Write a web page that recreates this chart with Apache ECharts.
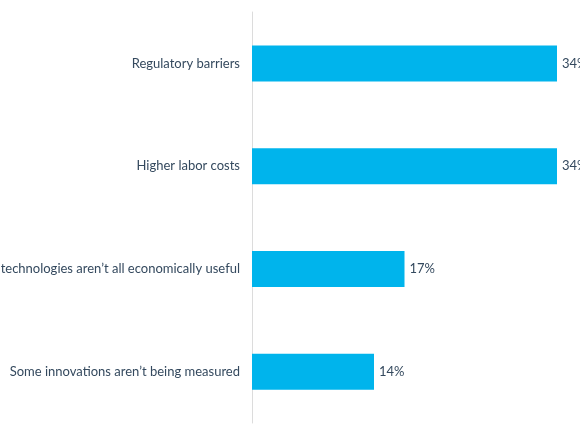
<!DOCTYPE html>
<html>
<head>
<meta charset="utf-8">
<script src="https://cdn.jsdelivr.net/npm/echarts@6/dist/echarts.min.js"></script>
<style>
  html, body { margin: 0; padding: 0; background: #fff; }
  #chart { width: 580px; height: 435px; }
</style>
</head>
<body>
<div id="chart"></div>
<script>
var categories = [
  'Regulatory barriers',
  'Higher labor costs',
  'New technologies aren\u2019t all economically useful',
  'Some innovations aren\u2019t being measured'
];
var values = [34, 34, 17, 13.6];

var myChart = echarts.init(document.getElementById('chart'));
myChart.setOption({
  animation: false,
  grid: { left: 252, right: 23, top: 12, bottom: 12, outerBoundsMode: 'none', containLabel: false },
  xAxis: {
    type: 'value',
    min: 0,
    max: 34,
    show: false
  },
  yAxis: {
    type: 'category',
    inverse: true,
    data: categories,
    axisLine: { show: true, lineStyle: { color: '#dcdcdc', width: 1 } },
    axisTick: { show: false },
    axisLabel: {
      color: '#34495e',
      fontFamily: 'Lato',
      fontSize: 13,
      margin: 12
    }
  },
  series: [{
    type: 'bar',
    data: values,
    barWidth: 36,
    itemStyle: { color: '#00b4ec' },
    label: {
      show: true,
      position: 'right',
      distance: 5,
      color: '#34495e',
      fontFamily: 'Lato',
      fontSize: 13,
      formatter: function (p) { return Math.round(p.value) + '%'; }
    }
  }]
});
</script>
</body>
</html>
